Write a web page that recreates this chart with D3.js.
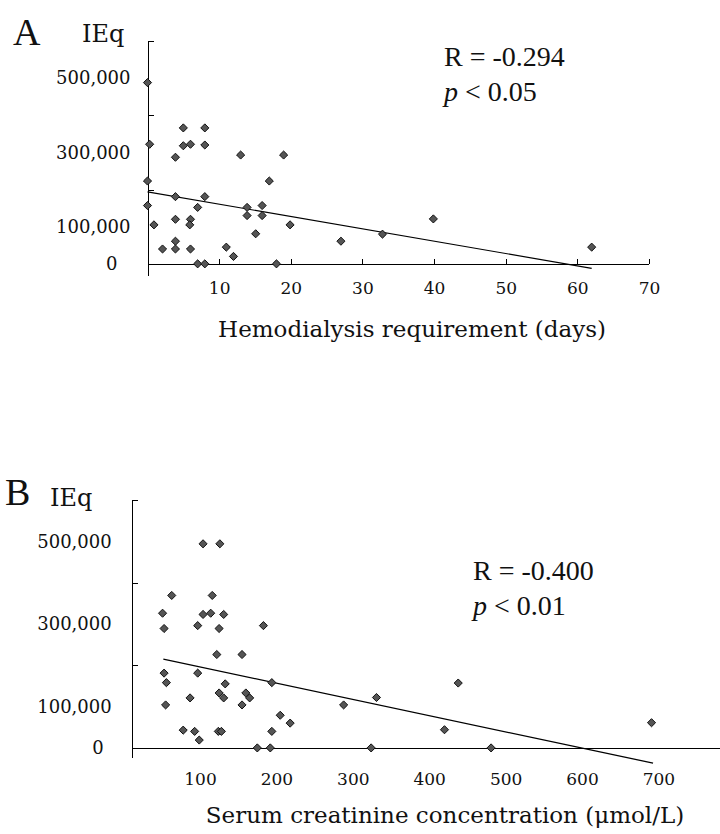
<!DOCTYPE html>
<html>
<head>
<meta charset="utf-8">
<script src="https://cdn.jsdelivr.net/npm/d3@7"></script>
<style>
  body { margin: 0; background: #fff; }
  .axis path, .axis line { stroke: #000; stroke-width: 1; shape-rendering: crispEdges; }
  .axis text { font-family: "DejaVu Serif", serif; fill: #111; }
  .label { font-family: "DejaVu Serif", serif; fill: #111; }
  .times { font-family: "Liberation Serif", "Times New Roman", serif; fill: #111; }
</style>
</head>
<body>
<div id="chart"></div>
<script>
// panel A: hemodialysis requirement (days) vs IEq
var daysA = [0, 0.3, 0, 0, 0.9, 2.1, 3.9, 3.9, 3.9, 3.9, 3.9, 5, 5, 6, 6, 5.9, 6, 7, 7, 8, 8, 8, 8,
             11, 12, 13, 13.9, 13.9, 15.1, 16, 16, 17, 18, 19, 19.9, 27, 32.8, 39.9, 62];
var ieqA = [488000, 322000, 223000, 157000, 105000, 40000, 287000, 181000, 120000, 61000, 40000,
            366000, 318000, 322000, 120000, 105000, 40000, 152000, 0, 366000, 320000, 181000, 0,
            45000, 20000, 293000, 152000, 130000, 81000, 157000, 130000, 223000, 0, 293000, 105000,
            61000, 80000, 121000, 45000];
var fitXA = [0, 62];
var fitYA = [194000, -12000];
var xTicksA = [10, 20, 30, 40, 50, 60, 70];

// panel B: serum creatinine (umol/L) vs IEq
var creatB = [104, 126, 63, 116, 51, 104, 114, 131, 53, 97, 125, 183, 122, 155, 53, 97, 56, 133, 194,
              87, 125, 131, 160, 165, 55, 155, 288, 205, 218, 78, 93, 99, 124, 128, 194, 175, 192,
              331, 324, 438, 420, 481, 691];
var ieqB = [494000, 494000, 369000, 369000, 326000, 323000, 326000, 323000, 289000, 296000, 289000,
            296000, 226000, 226000, 181000, 181000, 158000, 155000, 158000, 121000, 133000, 121000,
            133000, 121000, 104000, 104000, 104000, 79000, 60000, 43000, 40000, 19000, 40000, 40000,
            40000, 0, 0, 122000, 0, 157000, 44000, 0, 61000];
var fitXB = [52, 693];
var fitYB = [215000, -37000];
var xTicksB = [100, 200, 300, 400, 500, 600, 700];

var yLabels = [0, 100000, 300000, 500000];
var yMinor = [200000, 400000, 600000];

var W = 720, H = 834;

var svg = d3.select("#chart").append("svg")
    .attr("width", W).attr("height", H)
    .style("background", "#fff");

var diamond = d3.symbol().type(d3.symbolDiamond2).size(42);

function panel(o) {
    var g = svg.append("g");

    // y axis with labels (no ticks) and small inward ticks
    g.append("g").attr("class", "axis")
        .attr("transform", "translate(" + o.axisX + ",0)")
        .call(d3.axisLeft(o.y).tickValues(yLabels).tickSize(0).tickPadding(o.yPad)
            .tickSizeOuter(0).tickFormat(d3.format(",")))
        .call(s => s.selectAll("text").style("font-size", "18px")
            .attr("dx", d => d === 0 ? -o.zeroShift : 0));

    g.append("g").attr("class", "axis")
        .attr("transform", "translate(" + o.axisX + ",0)")
        .call(d3.axisLeft(o.y).tickValues(yMinor).tickSize(-6).tickFormat(""))
        .call(s => s.select(".domain").remove());

    // x axis at IEq = 0
    var xa = g.append("g").attr("class", "axis")
        .attr("transform", "translate(0," + o.y(0) + ")")
        .call(d3.axisBottom(o.x).tickValues(o.xTicks).tickSize(o.xTickSize)
            .tickSizeOuter(0).tickPadding(o.xPad))
        .call(s => s.selectAll("text").style("font-size", "17px"));
    xa.select(".domain").attr("d", "M" + o.axisX + ",0.5H" + o.xEnd);

    // regression line
    var fit = o.fitX.map((v, i) => [v, o.fitY[i]]);
    g.append("path")
        .attr("d", d3.line().x(d => o.x(d[0])).y(d => o.y(d[1]))(fit))
        .attr("fill", "none").attr("stroke", "#000").attr("stroke-width", 1.2);

    // points
    g.selectAll("path.dot")
        .data(o.xs.map((v, i) => [v, o.ys[i]]))
        .enter().append("path")
        .attr("class", "dot")
        .attr("d", diamond)
        .attr("transform", d => "translate(" + o.x(d[0]) + "," + o.y(d[1]) + ")")
        .attr("fill", "#555").attr("stroke", "#111").attr("stroke-width", 1);

    // texts
    g.append("text").attr("class", "times")
        .attr("x", o.letterX).attr("y", o.letterY)
        .style("font-size", "38px").text(o.letter);
    g.append("text").attr("class", "label")
        .attr("x", o.ieqX).attr("y", o.ieqY)
        .style("font-size", "24px").text("IEq");
    g.append("text").attr("class", "label")
        .attr("x", o.titleX).attr("y", o.titleY)
        .attr("text-anchor", "middle")
        .style("font-size", "23px").text(o.title);

    g.append("text").attr("class", "times")
        .attr("x", o.statX).attr("y", o.statY)
        .style("font-size", "28px").text(o.rText);
    var p = g.append("text").attr("class", "times")
        .attr("x", o.statX).attr("y", o.statY + 35)
        .style("font-size", "28px");
    p.append("tspan").style("font-style", "italic").text("p");
    p.append("tspan").text(" < " + o.pText);
}

panel({
    x: d3.scaleLinear().domain([0, 70]).range([147.5, 649]),
    y: d3.scaleLinear().domain([-30000, 600000]).range([275, 41]),
    axisX: 147.5, xEnd: 649, xTicks: xTicksA, xTickSize: -5, xPad: 18,
    yPad: 17, zeroShift: 13,
    xs: daysA, ys: ieqA, fitX: fitXA, fitY: fitYA,
    letter: "A", letterX: 13, letterY: 45,
    ieqX: 82, ieqY: 42,
    title: "Hemodialysis requirement (days)", titleX: 412, titleY: 337,
    statX: 444, statY: 66, rText: "R = -0.294", pText: "0.05"
});

panel({
    x: d3.scaleLinear().domain([0, 700]).range([123.6, 658.4]),
    y: d3.scaleLinear().domain([-22000, 600000]).range([757, 500]),
    axisX: 131.7, xEnd: 720, xTicks: xTicksB, xTickSize: 0, xPad: 25,
    yPad: 20, zeroShift: 8,
    xs: creatB, ys: ieqB, fitX: fitXB, fitY: fitYB,
    letter: "B", letterX: 5, letterY: 505,
    ieqX: 50, ieqY: 506,
    title: "Serum creatinine concentration (\u03bcmol/L)", titleX: 445, titleY: 823,
    statX: 473, statY: 580, rText: "R = -0.400", pText: "0.01"
});
</script>
</body>
</html>
